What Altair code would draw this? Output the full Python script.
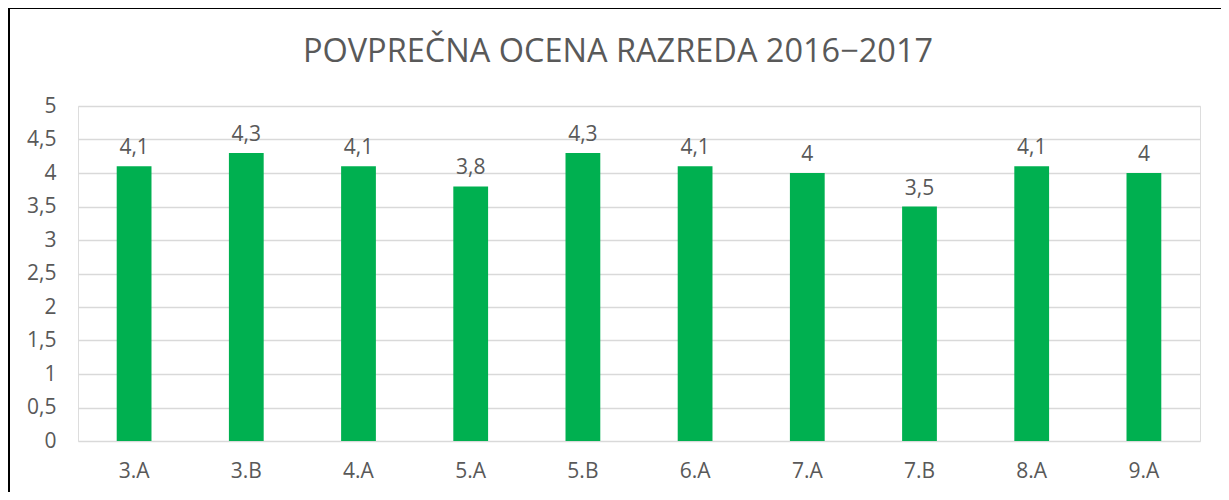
import altair as alt
import pandas as pd

classes = ["3.A", "3.B", "4.A", "5.A", "5.B", "6.A", "7.A", "7.B", "8.A", "9.A"]
grades = [4.1, 4.3, 4.1, 3.8, 4.3, 4.1, 4.0, 3.5, 4.1, 4.0]
labels = ["4,1", "4,3", "4,1", "3,8", "4,3", "4,1", "4", "3,5", "4,1", "4"]

df = pd.DataFrame({"razred": classes, "ocena": grades, "label": labels})

FONT = "Open Sans"
GREY = "#595959"
FS = 21

x = alt.X("razred:N", sort=classes, title=None,
          scale=alt.Scale(paddingInner=0.69, paddingOuter=0.345),
          axis=alt.Axis(labelAngle=0, labelFontSize=FS, labelColor=GREY, labelFont=FONT,
                        ticks=False, domain=False, labelPadding=19, grid=False))
y = alt.Y("ocena:Q", title=None,
          scale=alt.Scale(domain=[0, 5], nice=False),
          axis=alt.Axis(values=[0, 0.5, 1, 1.5, 2, 2.5, 3, 3.5, 4, 4.5, 5],
                        labelExpr="replace(format(datum.value, '~g'), '.', ',')",
                        labelFontSize=FS, labelColor=GREY, labelFont=FONT, labelOverlap=False,
                        ticks=False, domain=False, labelPadding=22,
                        gridColor="#D9D9D9", gridWidth=1.5))

base = alt.Chart(df).encode(x=x, y=y)
bars = base.mark_bar(color="#00B050")
text = base.mark_text(baseline="bottom", dy=-8, fontSize=FS, color=GREY, font=FONT).encode(
    text="label:N")

frame_left = alt.Chart(df).mark_rule(color="black", strokeWidth=2, clip=False).encode(
    x=alt.value(-69), y=alt.value(-99), y2=alt.value(400))
frame_top = alt.Chart(df).mark_rule(color="black", strokeWidth=2, clip=False).encode(
    x=alt.value(-70), x2=alt.value(1150), y=alt.value(-98))

chart = alt.layer(bars, text, frame_left, frame_top).properties(
    width=1122, height=335,
    autosize=alt.AutoSizeParams(type="none"),
    padding={"left": 70, "top": 98, "right": 21, "bottom": 51},
    title=alt.TitleParams("POVPREČNA OCENA RAZREDA 2016−2017", fontSize=32.5, font=FONT,
                          color=GREY, fontWeight="normal", anchor="middle", frame="bounds",
                          offset=-62),
).configure_view(stroke=None).configure(background="white")

chart.save("out.html", embed_options={"renderer": "svg", "actions": False})
